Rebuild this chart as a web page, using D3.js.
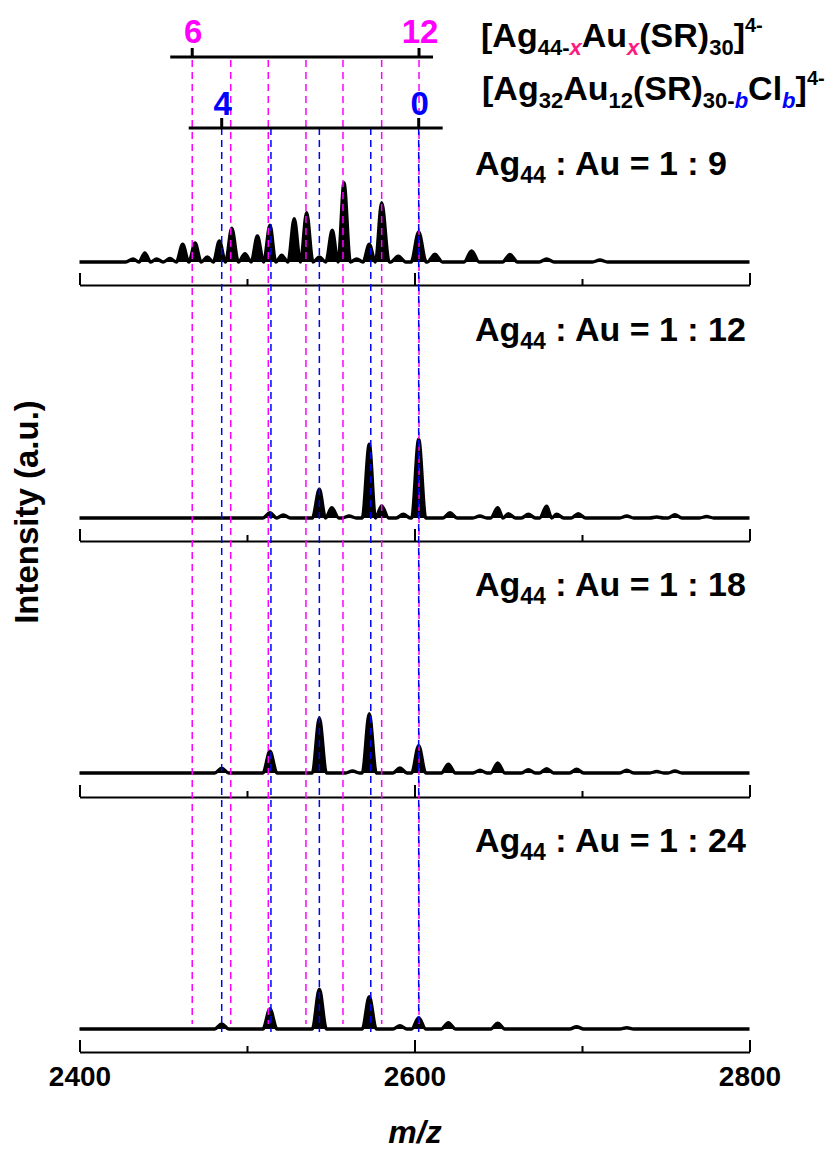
<!DOCTYPE html>
<html><head><meta charset="utf-8">
<script src="https://cdn.jsdelivr.net/npm/d3@7"></script>
<style>body{margin:0;background:#fff}text{font-family:"Liberation Sans",Arial,sans-serif;font-weight:bold;white-space:pre}</style>
</head><body><svg id="c" width="825" height="1151"></svg>
<script>
// ---------- data ----------
const xDomain = [2400, 2800];
const xTicksMajor = [2400, 2600, 2800];
const xTicksMinor = [2500, 2700];
const xTickLabels = ["2400", "2600", "2800"];
const panelRatios = ["1 : 9", "1 : 12", "1 : 18", "1 : 24"];
// Au-substitution positions (x = 6..12)
const auMz = [2467.3, 2490.3, 2512.7, 2535.2, 2557.3, 2580.4, 2602.7];
const auCount = [6, 7, 8, 9, 10, 11, 12];
// Cl-substitution positions (b = 4..0)
const clMz = [2484.9, 2514.3, 2543.2, 2573.9, 2602.5];
const clCount = [4, 3, 2, 1, 0];
// peaks [m/z, intensity] per spectrum
const peaks1 = [[2432,3],[2439,9],[2446,3],[2454,3.5],[2461.6,17.7],[2469,19],[2476.3,5],[2483.5,21],[2490.9,33.7],[2498.8,8.3],[2506.2,26],[2513.7,36.7],[2520.7,6.7],[2528.2,43.3],[2535.6,49.3],[2543.2,5],[2550.9,31.7],[2557.9,79.3],[2565.5,3],[2573,17.7],[2580.4,59.3],[2590.3,5.7],[2602.5,30],[2612.2,7.7],[2634.1,11],[2657,7.5],[2678.9,3],[2710.7,2]];
const peaks2 = [[2513.7,5.3],[2521.7,3],[2543.2,28.7],[2550.6,10.3],[2561,2],[2573,73.7],[2580.4,12],[2593.3,3.7],[2602.5,78.7],[2621.2,5.3],[2639,2],[2649.7,10.3],[2656,4.3],[2668,3.7],[2678.9,11.7],[2684.9,3.7],[2697.8,4.3],[2726.7,2],[2744.6,1],[2755.5,3.3],[2774.4,1.5]];
const peaks3 = [[2484.9,4.7],[2513.7,21.7],[2543.2,55],[2563,2],[2573,59.3],[2591.3,5],[2602.5,27.3],[2620.2,8.7],[2639.1,2.7],[2649.7,10],[2668,3.3],[2678.9,4.3],[2696.8,3.7],[2726.7,2.7],[2744.6,1.5],[2755.5,2]];
const peaks4 = [[2484.9,5],[2513.7,20],[2543.2,39.7],[2573,32.3],[2591.3,3.3],[2602.5,11.3],[2620.2,6.3],[2649.7,5.7],[2696.8,2.3],[2726.7,1.3]];
const spectra = [peaks1, peaks2, peaks3, peaks4];
const peakHalfWidth = [4.5, 4.2, 4.2, 4.2];

// ---------- drawing ----------
const svg = d3.select("#c");
const x = d3.scaleLinear().domain(xDomain).range([79.5, 749.5]);
const panelBase = [262, 518, 773, 1029];
const panelAxis = [285, 541, 797, 1052];
const labelBase = [175, 341, 596, 852];

function tracePts(peaks, hw) {
  const pts = [[xDomain[0], 0]];
  peaks.forEach((p, i) => {
    const prev = peaks[i-1], next = peaks[i+1];
    let l = p[0] - hw; if (prev) l = Math.max(l, (prev[0] + p[0]) / 2);
    let r = p[0] + hw; if (next) r = Math.min(r, (p[0] + next[0]) / 2);
    if (l > pts[pts.length-1][0]) pts.push([l, 0]);
    pts.push([p[0], p[1]]);
    pts.push([r, 0]);
  });
  if (pts[pts.length-1][0] < xDomain[1]) pts.push([xDomain[1], 0]);
  return pts;
}

spectra.forEach((peaks, i) => {
  const y = d3.scaleLinear().domain([0, 100]).range([panelBase[i], panelBase[i] - 100]);
  const pts = tracePts(peaks, peakHalfWidth[i]);
  const area = d3.area().x(d => x(d[0])).y0(y(0)).y1(d => y(d[1])).curve(d3.curveMonotoneX);
  const line = d3.line().x(d => x(d[0])).y(d => y(d[1])).curve(d3.curveMonotoneX);
  svg.append("path").attr("d", area(pts)).attr("fill", "#000");
  svg.append("path").attr("d", line(pts)).attr("fill", "none").attr("stroke", "#000").attr("stroke-width", 3.4).attr("stroke-linejoin", "round");

  // axis
  const gA = svg.append("g").attr("transform", `translate(0,${panelAxis[i]})`);
  gA.call(d3.axisTop(x).tickValues(xTicksMajor).tickSize(12).tickSizeOuter(0).tickFormat(""));
  const gM = svg.append("g").attr("transform", `translate(0,${panelAxis[i]})`);
  gM.call(d3.axisTop(x).tickValues(xTicksMinor).tickSize(6).tickSizeOuter(0).tickFormat(""));
  gM.select(".domain").remove();
  [gA, gM].forEach(g => { g.selectAll("line").attr("stroke", "#000").attr("stroke-width", 2); g.selectAll(".domain").attr("stroke", "#000").attr("stroke-width", 2.2); });

  // panel label
  const t = svg.append("text").attr("x", 475).attr("y", labelBase[i]).attr("font-size", 34);
  t.append("tspan").text("Ag");
  t.append("tspan").attr("dy", 8).attr("font-size", 23).text("44");
  t.append("tspan").attr("dy", -8).text(" : Au = " + panelRatios[i]);
});

// bottom tick labels
const gL = svg.append("g").attr("transform", `translate(0,${panelAxis[3]})`);
gL.call(d3.axisBottom(x).tickValues(xTicksMajor).tickSize(0).tickPadding(14).tickFormat((d, i) => xTickLabels[i]));
gL.select(".domain").remove();
gL.selectAll("text").attr("font-size", 28).attr("font-family", '"Liberation Sans",Arial,sans-serif').attr("font-weight", "bold").attr("fill", "#000");

// dashed guide lines
svg.selectAll(".au").data(auMz).enter().append("line")
  .attr("x1", d => x(d)).attr("x2", d => x(d)).attr("y1", 60).attr("y2", 1024)
  .attr("stroke", "#ff00ff").attr("stroke-width", 1.5).attr("stroke-dasharray", "7,5");
svg.selectAll(".cl").data(clMz).enter().append("line")
  .attr("x1", d => x(d)).attr("x2", d => x(d)).attr("y1", 128).attr("y2", 1032)
  .attr("stroke", "#0000ff").attr("stroke-width", 1.5).attr("stroke-dasharray", "7,5");

// top scale bars
function scaleBar(yy, mzArr, cnt, x0pad, x1pad, color, tickH, lblY) {
  svg.append("line").attr("x1", x(mzArr[0]) - x0pad).attr("x2", x(mzArr[mzArr.length-1]) + x1pad)
    .attr("y1", yy).attr("y2", yy).attr("stroke", "#000").attr("stroke-width", 3);
  [0, mzArr.length-1].forEach(k => {
    svg.append("line").attr("x1", x(mzArr[k])).attr("x2", x(mzArr[k])).attr("y1", yy).attr("y2", yy - tickH)
      .attr("stroke", "#000").attr("stroke-width", 3);
    svg.append("text").attr("x", x(mzArr[k]) + 1).attr("y", lblY).attr("text-anchor", "middle")
      .attr("font-size", 33).attr("fill", color).text(cnt[k]);
  });
}
scaleBar(57, auMz, auCount, 22, 14, "#ff00ff", 9, 43);
scaleBar(128, clMz, clCount, 33, 24, "#0000ff", 10, 115);

// formulas
function formula(xx, yy, parts) {
  const t = svg.append("text").attr("x", xx).attr("y", yy).attr("font-size", 34);
  let cur = 0;
  parts.forEach(p => {
    const off = p.k === "sub" ? 8 : p.k === "sup" ? -15 : 0;
    const ts = t.append("tspan").attr("dy", off - cur).text(p.s);
    cur = off;
    if (p.k) ts.attr("font-size", p.k === "sup" ? 20 : 22);
    if (p.c) ts.attr("fill", p.c).attr("font-style", "italic");
  });
}
formula(481, 47, [{s:"[Ag"},{s:"44-",k:"sub"},{s:"x",k:"sub",c:"#ff1a80"},{s:"Au"},{s:"x",k:"sub",c:"#ff1a80"},{s:"(SR)"},{s:"30",k:"sub"},{s:"]"},{s:"4-",k:"sup"}]);
formula(482, 100, [{s:"[Ag"},{s:"32",k:"sub"},{s:"Au"},{s:"12",k:"sub"},{s:"(SR)"},{s:"30-",k:"sub"},{s:"b",k:"sub",c:"#0000ff"},{s:"Cl"},{s:"b",k:"sub",c:"#0000ff"},{s:"]"},{s:"4-",k:"sup"}]);

// axis titles
svg.append("text").attr("transform", "translate(38,512) rotate(-90)").attr("text-anchor", "middle")
  .attr("font-size", 33).text("Intensity (a.u.)");
svg.append("text").attr("x", 415).attr("y", 1143).attr("text-anchor", "middle")
  .attr("font-size", 32).attr("font-style", "italic").text("m/z");
</script>
</body></html>
